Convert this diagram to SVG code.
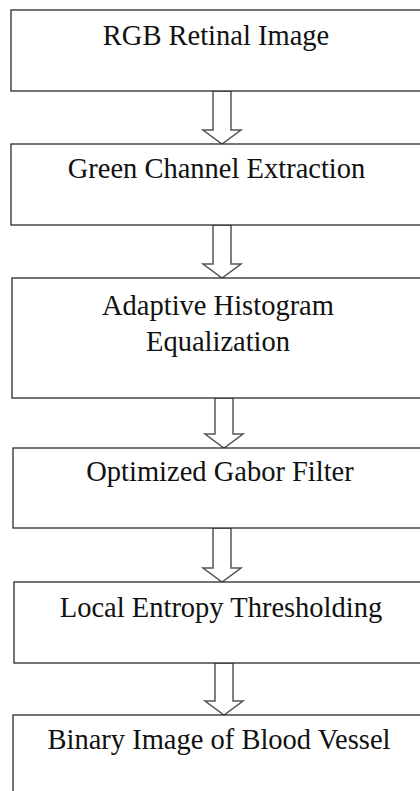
<svg xmlns="http://www.w3.org/2000/svg" width="420" height="791" viewBox="0 0 420 791">
<style>
.box{fill:#fff;stroke:#2a2a2a;stroke-width:1.3}
.arr{fill:#fff;stroke:#555;stroke-width:1.5;stroke-linejoin:miter}
text{font-family:"Liberation Serif","Times New Roman",serif;font-size:28.5px;fill:#111;text-anchor:middle}
</style>
<rect width="420" height="791" fill="#fff"/>
<g id="connectors">
<path class="arr" d="M213,91 V130 H203 L222,144 L241,130 H231 V91 Z"/>
<path class="arr" d="M213,225 V264 H203 L222,278 L241,264 H231 V225 Z"/>
<path class="arr" d="M215,398 V434 H205 L224,448 L243,434 H233 V398 Z"/>
<path class="arr" d="M213,528 V568 H203 L222,582 L241,568 H231 V528 Z"/>
<path class="arr" d="M215,663 V701 H205 L224,715 L243,701 H233 V663 Z"/>
</g>
<g id="n1"><rect class="box" x="11" y="10" width="420" height="81"/><text x="216" y="45">RGB Retinal Image</text></g>
<g id="n2"><rect class="box" x="11" y="144" width="420" height="81"/><text x="216.5" y="178">Green Channel Extraction</text></g>
<g id="n3"><rect class="box" x="12" y="278" width="420" height="120"/><text x="218" y="315">Adaptive Histogram</text><text x="218" y="351">Equalization</text></g>
<g id="n4"><rect class="box" x="13" y="448" width="420" height="80"/><text x="220" y="481">Optimized Gabor Filter</text></g>
<g id="n5"><rect class="box" x="14" y="582" width="420" height="81"/><text x="221" y="617">Local Entropy Thresholding</text></g>
<g id="n6"><rect class="box" x="13" y="715" width="420" height="100"/><text x="219" y="749">Binary Image of Blood Vessel</text></g>
</svg>
